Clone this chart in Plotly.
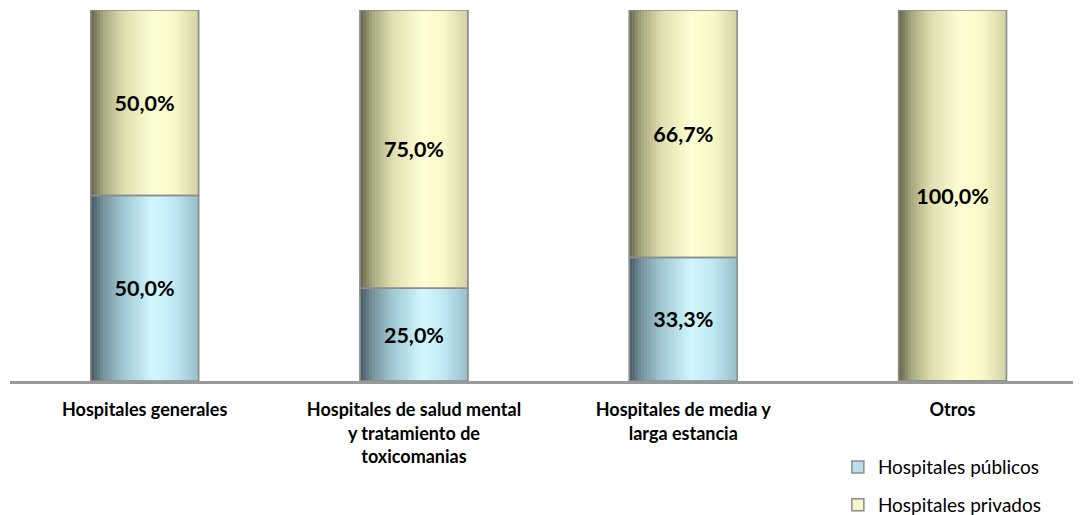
import plotly.graph_objects as go

# datos
categorias = ["Hospitales generales",
              "Hospitales de salud mental<br>y tratamiento de<br>toxicomanias",
              "Hospitales de media y<br>larga estancia",
              "Otros"]
publicos = [50.0, 25.0, 33.3, 0.0]
privados = [50.0, 75.0, 66.7, 100.0]
series_names = ["Hospitales públicos", "Hospitales privados"]

FONT = "Lato"
BAR_W = 0.4
N_SLICES = 36

# degradados tipo cilindro (posición, rgb)
grad_azul = [(0.0, (68, 88, 96)), (0.12, (118, 148, 158)), (0.3, (160, 200, 210)),
             (0.58, (210, 248, 255)), (0.78, (192, 232, 242)), (1.0, (150, 190, 200))]
grad_amar = [(0.0, (100, 100, 74)), (0.12, (170, 170, 128)), (0.3, (222, 222, 176)),
             (0.58, (255, 255, 212)), (0.78, (248, 248, 200)), (1.0, (210, 210, 165))]


def color_at(grad, t):
    for (p0, c0), (p1, c1) in zip(grad, grad[1:]):
        if p0 <= t <= p1:
            f = (t - p0) / (p1 - p0)
            r, g, b = (round(a + (b_ - a) * f) for a, b_ in zip(c0, c1))
            return f"rgb({r},{g},{b})"
    return "rgb(%d,%d,%d)" % grad[-1][1]


def fmt(v):
    return (f"{v:.1f}".replace(".", ",") + "%") if v > 0 else ""


x_idx = list(range(len(categorias)))
fig = go.Figure()

series = [
    (publicos, [0] * len(publicos), grad_azul, "#b9dfe9"),
    (privados, publicos, grad_amar, "#f6f6c8"),
]

# base de cada serie (entrada de leyenda)
for (vals, base, grad, leg_col), name in zip(series, series_names):
    fig.add_trace(go.Bar(
        x=x_idx, y=vals, base=base, width=BAR_W, name=name,
        marker=dict(color=leg_col, line=dict(color="#8c8c8c", width=1.5)),
        legendgroup=name, hoverinfo="skip"
    ))

# franjas del degradado
for vals, base, grad, _ in series:
    sw = BAR_W / N_SLICES
    for i in range(N_SLICES):
        t = (i + 0.5) / N_SLICES
        fig.add_trace(go.Bar(
            x=x_idx, y=vals, base=base, width=sw * 1.15,
            offset=-BAR_W / 2 + i * sw,
            marker=dict(color=color_at(grad, t), line=dict(width=0)),
            showlegend=False, hoverinfo="skip"
        ))

# contorno y etiquetas
for (vals, base, grad, _), name in zip(series, series_names):
    fig.add_trace(go.Bar(
        x=x_idx, y=vals, base=base, width=BAR_W,
        marker=dict(color="rgba(0,0,0,0)", line=dict(color="#8c8c8c", width=1.5)),
        text=[fmt(v) for v in vals], textposition="inside",
        insidetextanchor="middle", textangle=0, constraintext="none",
        textfont=dict(family=FONT, size=21.5, color="black", weight="bold"),
        showlegend=False, hovertemplate=name + ": %{text}<extra></extra>"
    ))

# la página añade 8px de margen al cuerpo: la figura se reduce en esa medida
fig.update_layout(
    width=1073, height=507,
    barmode="overlay",
    paper_bgcolor="white", plot_bgcolor="white",
    margin=dict(l=2, r=0, t=2, b=134, autoexpand=False),
    font=dict(family=FONT, size=18, color="black"),
    showlegend=True,
    legend=dict(x=0.773, y=-0.181, xanchor="left", yanchor="top",
                traceorder="grouped", tracegroupgap=10,
                font=dict(family=FONT, size=19), itemwidth=30),
    xaxis=dict(range=[-0.5, 3.477], tickvals=x_idx, ticktext=categorias,
               showline=True, linecolor="#999999", linewidth=2.5,
               ticks="outside", ticklen=11, tickcolor="rgba(0,0,0,0)",
               tickfont=dict(family=FONT, size=18, weight="bold"),
               showgrid=False, zeroline=False, tickangle=0),
    yaxis=dict(range=[0, 100], visible=False, showgrid=False),
)

fig.write_html("out.html")
